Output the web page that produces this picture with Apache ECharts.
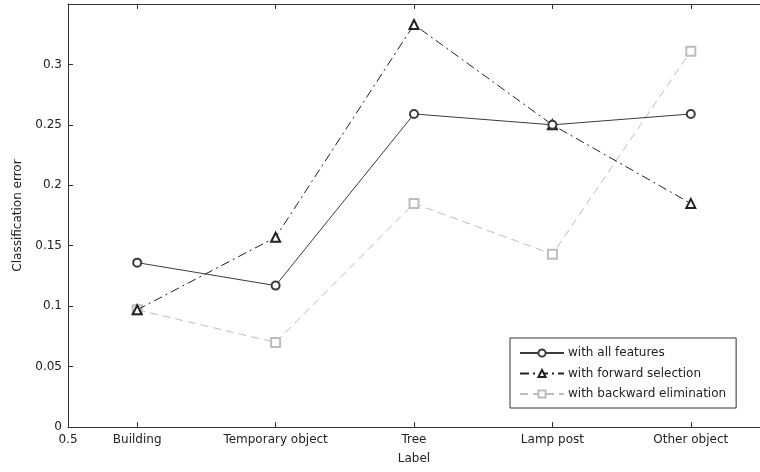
<!DOCTYPE html>
<html>
<head>
<meta charset="utf-8">
<script src="https://cdn.jsdelivr.net/npm/echarts@6/dist/echarts.min.js"></script>
<style>
  html, body { margin: 0; padding: 0; background: #fff; }
  #chart { width: 760px; height: 472px; }
</style>
</head>
<body>
<div id="chart"></div>
<script>
// Class labels placed at x = 1..5
const categories = ['Building', 'Temporary object', 'Tree', 'Lamp post', 'Other object'];

// Classification error per label
const allFeatures = [0.136, 0.117, 0.259, 0.250, 0.259];
const forwardSelection = [0.097, 0.157, 0.333, 0.250, 0.185];
const backwardElimination = [0.097, 0.070, 0.185, 0.143, 0.311];

const seriesNames = ['with all features', 'with forward selection', 'with backward elimination'];
const yTicks = [0, 0.05, 0.1, 0.15, 0.2, 0.25, 0.3];

const FONT = 'DejaVu Sans';
const AXIS = '#333';

function pairs(values) {
  return values.map((v, i) => [i + 1, v]);
}

function xLabel(v) {
  if (Math.abs(v - 0.5) < 1e-9) return '0.5';
  const idx = Math.round(v) - 1;
  return categories[idx] !== undefined ? categories[idx] : '';
}

const chart = echarts.init(document.getElementById('chart'), null, { renderer: 'canvas' });

const tickPositions = categories.map((_, i) => i + 1);

chart.setOption({
  animation: false,
  backgroundColor: '#fff',
  textStyle: { fontFamily: FONT },
  grid: { left: 68, right: -10, top: 4, bottom: 45 },
  xAxis: [
    {
      type: 'value',
      min: 0.5, max: 5.5,
      position: 'bottom',
      name: 'Label',
      nameLocation: 'middle',
      nameGap: 26,
      nameTextStyle: { color: '#222', fontSize: 12, fontFamily: FONT },
      axisLine: { show: true, lineStyle: { color: AXIS, width: 1 } },
      axisTick: { show: true, inside: true, length: 5, customValues: tickPositions, lineStyle: { color: AXIS } },
      axisLabel: {
        show: true, color: '#222', fontSize: 12, fontFamily: FONT, margin: 7,
        customValues: [0.5].concat(tickPositions),
        formatter: xLabel
      },
      splitLine: { show: false }
    },
    {
      type: 'value',
      min: 0.5, max: 5.5,
      position: 'top',
      axisLine: { show: true, lineStyle: { color: AXIS, width: 1 } },
      axisTick: { show: true, inside: true, length: 5, customValues: tickPositions, lineStyle: { color: AXIS } },
      axisLabel: { show: false },
      splitLine: { show: false }
    }
  ],
  yAxis: {
    type: 'value',
    min: 0, max: 0.35, interval: 0.05,
    name: 'Classification error',
    nameLocation: 'middle',
    nameGap: 44,
    nameTextStyle: { color: '#222', fontSize: 12, fontFamily: FONT },
    axisLine: { show: true, lineStyle: { color: AXIS, width: 1 } },
    axisTick: { show: true, inside: true, length: 5, lineStyle: { color: AXIS } },
    axisLabel: {
      color: '#222', fontSize: 12, fontFamily: FONT, margin: 6,
      formatter: function (v) {
        const hit = yTicks.find(t => Math.abs(t - v) < 1e-9);
        return hit === undefined ? '' : String(hit);
      }
    },
    splitLine: { show: false }
  },
  legend: {
    left: 510, top: 338,
    orient: 'vertical',
    width: 231,
    padding: [9, 10, 8, 9],
    itemWidth: 44, itemHeight: 9, itemGap: 8.5,
    backgroundColor: '#fff',
    borderColor: AXIS, borderWidth: 1,
    textStyle: { color: '#222', fontSize: 12, fontFamily: FONT, padding: [0, 0, 0, -1] },
    data: seriesNames
  },
  series: [
    {
      name: seriesNames[0],
      type: 'line',
      data: pairs(allFeatures),
      symbol: 'emptyCircle', symbolSize: 8,
      lineStyle: { color: '#3c3c3c', width: 1, type: 'solid' },
      itemStyle: { color: '#3c3c3c', borderColor: '#3c3c3c', borderWidth: 1 },
      z: 3
    },
    {
      name: seriesNames[1],
      type: 'line',
      data: pairs(forwardSelection),
      symbol: 'emptyTriangle', symbolSize: 9,
      lineStyle: { color: '#222', width: 1, type: [9, 4, 2, 4] },
      itemStyle: { color: '#222', borderColor: '#222', borderWidth: 1 },
      z: 2
    },
    {
      name: seriesNames[2],
      type: 'line',
      data: pairs(backwardElimination),
      symbol: 'emptyRect', symbolSize: 9,
      lineStyle: { color: '#bdbdbd', width: 1, type: [8, 5] },
      itemStyle: { color: '#bdbdbd', borderColor: '#bdbdbd', borderWidth: 1 },
      z: 1
    }
  ]
});
</script>
</body>
</html>
